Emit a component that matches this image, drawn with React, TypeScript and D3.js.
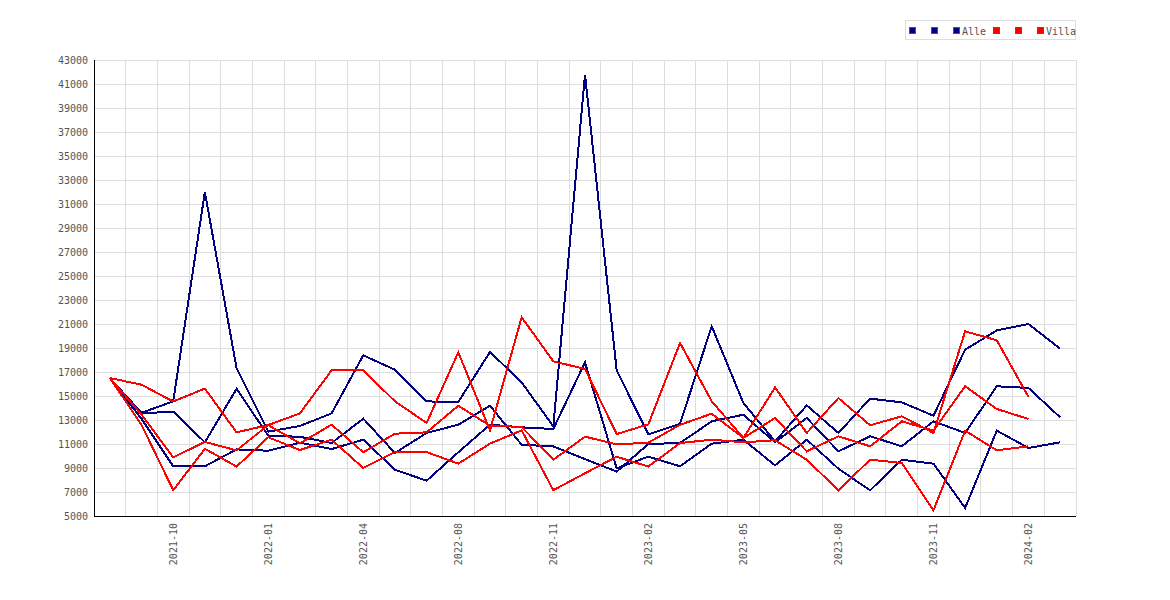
import { scaleBand, scaleLinear, line } from "d3";

// category axis: months with data (2022-07 has no row)
const months = [
  "2021-08", "2021-09", "2021-10", "2021-11", "2021-12", "2022-01", "2022-02",
  "2022-03", "2022-04", "2022-05", "2022-06", "2022-08", "2022-09", "2022-10",
  "2022-11", "2022-12", "2023-01", "2023-02", "2023-03", "2023-04", "2023-05",
  "2023-06", "2023-07", "2023-08", "2023-09", "2023-10", "2023-11", "2023-12",
  "2024-01", "2024-02", "2024-03",
];

const yTicks = [
  5000, 7000, 9000, 11000, 13000, 15000, 17000, 19000, 21000, 23000, 25000,
  27000, 29000, 31000, 33000, 35000, 37000, 39000, 41000, 43000,
];

const alle1 = [
  16500, 13600, 14550, 32000, 17330, 12030, 12500, 13550, 18390, 17190, 14550,
  14500, 18670, 16140, 12470, 41780, 17140, 11800, 12690, 20810, 14420, 11220,
  14220, 11920, 14780, 14470, 13360, 18860, 20470, 21000, 18940,
];
const alle2 = [
  16500, 13550, 13700, 11140, 15600, 11700, 11600, 11080, 13110, 10250, 11920,
  12610, 14190, 10940, 10800, 9740, 8700, 11000, 11080, 12890, 13440, 11140,
  13170, 10390, 11640, 10810, 12890, 11920, 15810, 15670, 13220,
];
const alle3 = [
  16500, 13100, 9140, 9140, 10550, 10440, 11110, 10580, 11360, 8860, 7940,
  10310, 12610, 12390, 12250, 17810, 8970, 9950, 9140, 11030, 11360, 9220,
  11360, 8940, 7140, 9690, 9360, 5670, 12110, 10670, 11140,
];
const villa1 = [
  16500, 15940, 14540, 15620, 11970, 12580, 13550, 17140, 17140, 14560, 12750,
  18640, 12140, 21560, 17890, 17250, 11830, 12640, 19420, 14560, 11500, 15720,
  11920, 14830, 12560, 13310, 11920, 20390, 19640, 14920,
];
const villa2 = [
  16500, 13450, 9890, 11170, 10470, 12580, 11060, 12610, 10310, 11860, 11970,
  14190, 12530, 12420, 9690, 11610, 10970, 11110, 12600, 13530, 11500, 13170,
  10390, 11640, 10810, 12890, 12110, 15810, 13920, 13080,
];
const villa3 = [
  16500, 12600, 7150, 10600, 9120, 11560, 10500, 11360, 9000, 10330, 10330,
  9360, 11030, 12140, 7150, 8560, 9940, 9120, 11080, 11360, 11140, 11310, 9690,
  7140, 9690, 9420, 5470, 12110, 10470, 10810,
];

const seriesNames = ["", "", "Alle", "", "", "Villa"];
const seriesValues = [alle1, alle2, alle3, villa1, villa2, villa3];
const seriesColors = ["#000080", "#000080", "#000080", "#ff0000", "#ff0000", "#ff0000"];

const width = 1170;
const height = 600;
const margin = { left: 94, right: 94, top: 60, bottom: 84 };
const font = "'DejaVu Sans Mono', monospace";

export default function App() {
  const x = scaleBand<string>()
    .domain(months)
    .range([margin.left, width - margin.right]);
  const bw = x.bandwidth();
  const y = scaleLinear()
    .domain([yTicks[0], yTicks[yTicks.length - 1]])
    .range([height - margin.bottom, margin.top]);

  const lineFunc = line<number>()
    .x((_, i) => x(months[i])! + bw / 2)
    .y((d) => y(d));

  const bottom = height - margin.bottom;
  const right = width - margin.right;

  // legend layout: square + label, running offsets
  const charW = 6;
  let lx = 909;
  const legendItems = seriesNames.map((name, i) => {
    const item = { name, color: seriesColors[i], x: lx };
    lx += 22 + (name ? name.length * charW - 6 : 0);
    return item;
  });

  return (
    <svg
      width={width}
      height={height}
      viewBox={`0 0 ${width} ${height}`}
      style={{ position: "absolute", left: 0, top: 0, background: "#fff" }}
    >
      {/* grid */}
      <g stroke="#dddddd" strokeWidth={1} shapeRendering="crispEdges">
        {yTicks.map((t) => (
          <line key={t} x1={margin.left} x2={right} y1={y(t)} y2={y(t)} />
        ))}
        {months.map((m) => (
          <line key={m} x1={x(m)! + bw} x2={x(m)! + bw} y1={margin.top} y2={bottom} />
        ))}
      </g>

      {/* y labels */}
      <g fontFamily={font} fontSize={10} fill="#555" textAnchor="end">
        {yTicks.map((t) => (
          <text key={t} x={margin.left - 6} y={y(t)} dy="0.35em">
            {t}
          </text>
        ))}
      </g>

      {/* x labels */}
      <g fontFamily={font} fontSize={10} fill="#555" textAnchor="end">
        {months.map((m, i) =>
          i % 3 === 2 ? (
            <text
              key={m}
              transform={`translate(${x(m)! + bw / 2},${bottom + 7}) rotate(-90)`}
              dy="0.35em"
            >
              {m}
            </text>
          ) : null
        )}
      </g>

      {/* lines */}
      {seriesValues.map((vals, i) => (
        <path
          key={i}
          d={lineFunc(vals) ?? ""}
          fill="none"
          stroke={seriesColors[i]}
          strokeWidth={2}
          strokeLinejoin="miter"
          shapeRendering="crispEdges"
        />
      ))}

      {/* axes */}
      <g stroke="#000" strokeWidth={1} shapeRendering="crispEdges">
        <line x1={margin.left} x2={margin.left} y1={margin.top} y2={bottom} />
        <line x1={margin.left} x2={right} y1={bottom} y2={bottom} />
      </g>

      {/* legend */}
      <rect
        x={905.5}
        y={20.5}
        width={170}
        height={19}
        fill="#fff"
        stroke="#dddddd"
        shapeRendering="crispEdges"
      />
      {legendItems.map((it, i) => (
        <g key={i}>
          <rect
            x={it.x + 0.5}
            y={27.5}
            width={6}
            height={6}
            fill={it.color}
            stroke="#555"
            shapeRendering="crispEdges"
          />
          {it.name && (
            <text x={it.x + 9} y={31} dy="0.35em" fontFamily={font} fontSize={10} fill="#555">
              {it.name}
            </text>
          )}
        </g>
      ))}
    </svg>
  );
}
